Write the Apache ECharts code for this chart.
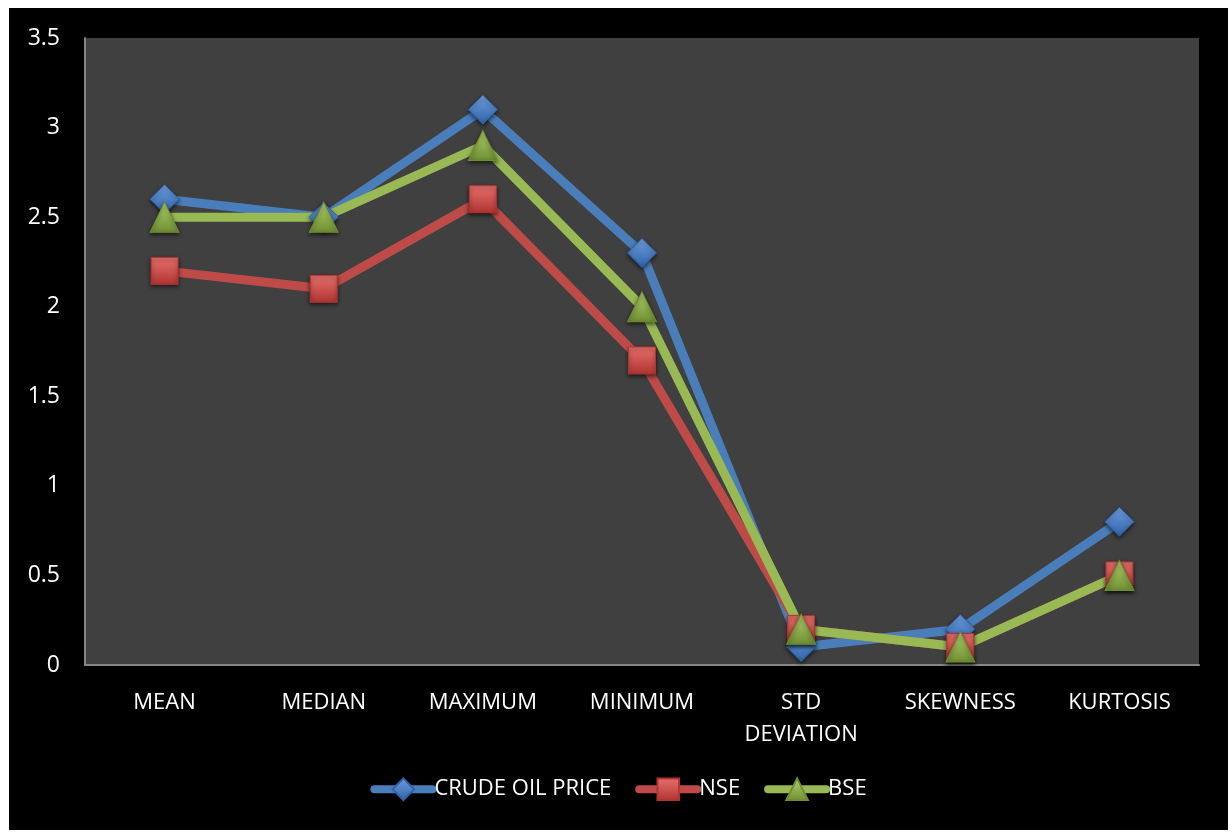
<!DOCTYPE html>
<html>
<head>
<meta charset="utf-8">
<script src="https://cdn.jsdelivr.net/npm/echarts@6/dist/echarts.min.js"></script>
<style>
html,body{margin:0;padding:0;background:#fff;width:1232px;height:832px;overflow:hidden;}
#wrap{position:absolute;left:9px;top:8px;width:1219px;height:822px;background:#000;}
#chart{width:1219px;height:822px;}
</style>
</head>
<body>
<div id="wrap"><div id="chart"></div></div>
<script>
const categories = ['MEAN','MEDIAN','MAXIMUM','MINIMUM','STD\nDEVIATION','SKEWNESS','KURTOSIS'];
const crudeOil = [2.6, 2.5, 3.1, 2.3, 0.1, 0.2, 0.8];
const nse = [2.2, 2.1, 2.6, 1.7, 0.2, 0.1, 0.5];
const bse = [2.5, 2.5, 2.9, 2.0, 0.2, 0.1, 0.5];
const yTicks = {min: 0, max: 3.5, interval: 0.5};

const FONT = '"Open Sans", "Liberation Sans", sans-serif';

function grad(light, dark){
  return new echarts.graphic.LinearGradient(0,0,0,1,[{offset:0,color:light},{offset:1,color:dark}]);
}

const chart = echarts.init(document.getElementById('chart'), null, {renderer:'canvas'});
const mk = (name, data, color, light, dark, symbol, size) => ({
  name, type:'line', data,
  symbol, symbolSize: size,
  lineStyle:{width:9, color: color, cap:'round', join:'round'},
  itemStyle:{color: grad(light, dark), borderColor: dark, borderWidth:1,
    shadowColor:'rgba(0,0,0,0.6)', shadowBlur:4, shadowOffsetY:2},
  emphasis:{disabled:true},
  animation:false
});
chart.setOption({
  backgroundColor:'#000',
  textStyle:{fontFamily: FONT},
  grid:{show:true, left:76, right:29, top:30, bottom:165, backgroundColor:'#404040', borderWidth:0},
  legend:{
    bottom: 24, left:'center',
    itemWidth:58, itemHeight:27, itemGap:24,
    lineStyle:{width:8, cap:'round'},
    textStyle:{color:'#fff', fontSize:22, fontFamily: FONT, padding:[0,0,0,-3]},
    data:['CRUDE OIL PRICE','NSE','BSE']
  },
  xAxis:{
    type:'category', data: categories, boundaryGap:true,
    axisLine:{lineStyle:{color:'#868686', width:2}},
    axisTick:{show:false},
    axisLabel:{color:'#fff', fontSize:22, margin:22, lineHeight:32, interval:0, fontFamily: FONT}
  },
  yAxis:{
    type:'value', min:yTicks.min, max:yTicks.max, interval:yTicks.interval,
    axisLine:{show:true, lineStyle:{color:'#868686', width:2}},
    axisTick:{show:false},
    splitLine:{show:false},
    axisLabel:{color:'#fff', fontSize:23, margin:25, fontFamily: FONT}
  },
  series:[
    mk('CRUDE OIL PRICE', crudeOil, '#4a7ebb', '#6f9fe0', '#2f62a8', 'diamond', [29,29]),
    mk('NSE', nse, '#be4b48', '#e8716d', '#b03431', 'rect', [27,27]),
    mk('BSE', bse, '#98b954', '#b5d46e', '#6e8e31', 'triangle', [29,30])
  ]
});
</script>
</body>
</html>
